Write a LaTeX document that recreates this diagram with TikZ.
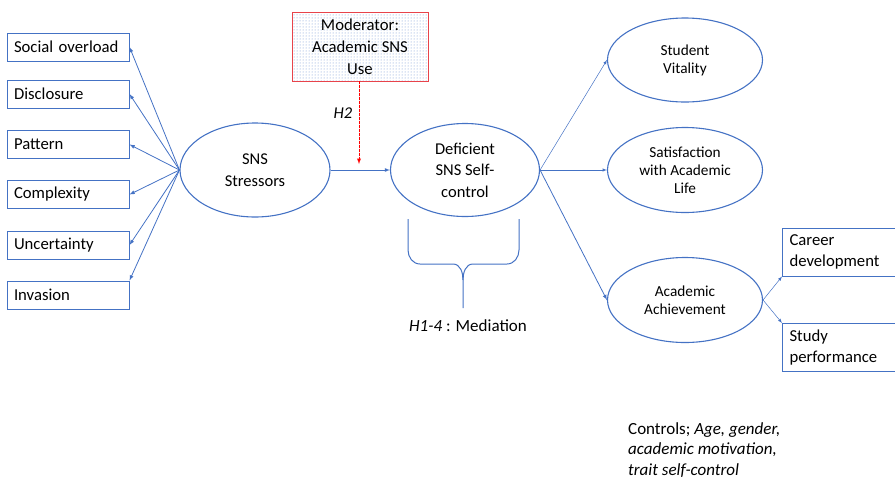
\documentclass[tikz,border=0pt]{standalone}
\usepackage{fontspec}
\setmainfont{Carlito}
\usetikzlibrary{arrows}
\usetikzlibrary{shapes}
\usetikzlibrary{patterns}
\definecolor{lineblue}{HTML}{4472C4}
\definecolor{modred}{HTML}{E8434A}

\begin{document}
\begin{tikzpicture}
      [x=1pt,y=-1pt,>=latex,
        box/.style={draw=lineblue,line width=1pt,text width=108pt,inner xsep=7pt,
          minimum height=28pt,align=left,font=\fontsize{16.7}{21}\selectfont},
        outbox/.style={box,minimum height=48pt},
        latent/.style={draw=lineblue,line width=1.1pt,ellipse,inner sep=0pt,
          align=center,font=\fontsize{16.5}{21.5}\selectfont},
        outcome/.style={latent,minimum width=155pt,minimum height=85pt,
          font=\fontsize{15.3}{18}\selectfont},
        path/.style={->,draw=lineblue,line width=0.8pt},
        thinpath/.style={->,draw=lineblue,line width=0.5pt}]
  \useasboundingbox (0,0) rectangle (895,480);
  % stressor dimensions
  \node[box] (so) at (68,47) {Social overload};
  \node[box] (di) at (68,94) {Disclosure};
  \node[box] (pa) at (68,144.5) {Pattern};
  \node[box] (co) at (68,194.5) {Complexity};
  \node[box] (un) at (68,245) {Uncertainty};
  \node[box] (in) at (68,295) {Invasion};
  % latent constructs
  \node[latent,minimum width=150pt,minimum height=94pt] (sns) at (255,170) {SNS\\Stressors};
  \node[latent,minimum width=149pt,minimum height=93pt] (dsc) at (465,170) {Deficient\\SNS Self-\\control};
  \node[draw=modred,line width=0.6pt,pattern=dots,pattern color=lineblue!80,
        minimum width=136pt,minimum height=69pt,align=center,
        font=\fontsize{16.7}{22}\selectfont] (mod) at (360,46.5) {Moderator:\\Academic SNS\\Use};
  \node[outcome,minimum height=84pt] (vit) at (685,60) {Student\\Vitality};
  \node[outcome] (sat) at (685,170) {Satisfaction\\with Academic\\Life};
  \node[outcome] (ach) at (685,300) {Academic\\Achievement};
  \node[outbox,anchor=west] (car) at (782,252) {Career\\development};
  \node[outbox,anchor=west] (stu) at (782,347.5) {Study\\performance};
  \coordinate (h2end) at (359,164);
  % paths
  \foreach \n in {so,di,pa,co,un}
    \draw[path] (sns.west) -- (\n.east);
  \draw[path] (sns.west) -- (in.north east);
  \draw[path] (sns.east) -- (dsc.west);
  \draw[->,draw=red,fill=red,dash pattern=on 2.5pt off 1.5pt,line width=0.9pt] (mod.south -| h2end) -- (h2end);
  \node[font=\fontsize{16.5}{18}\itshape] (h2) at (343,113) {H2};
  \draw[thinpath] (dsc.east) -- (vit.west);
  \draw[thinpath] (dsc.east) -- (sat.west);
  \draw[path] (dsc.east) -- (ach.west);
  \draw[thinpath] (ach.east) -- (car.south west);
  \draw[thinpath] (ach.east) -- (stu.north west);
  % mediation brace
  \draw[lineblue,line width=1pt] (408,219) -- (408,250) to[out=-90,in=180] (420,264)
    -- (453,264) to[out=0,in=90] (463,280) -- (463,308);
  \draw[lineblue,line width=1pt] (519,219) -- (519,250) to[out=-90,in=0] (507,264)
    -- (473,264) to[out=180,in=90] (463,280);
  \node[font=\fontsize{17}{20}\selectfont] (med) at (468,326) {\textit{H1-4} : Mediation};
  \node[anchor=north west,inner sep=0pt,align=left,
        font=\fontsize{17}{20.5}\selectfont] (ctl) at (628,422)
    {Controls; \textit{Age, gender,}\\\textit{academic motivation,}\\\textit{trait self-control}};
\end{tikzpicture}
\end{document}
